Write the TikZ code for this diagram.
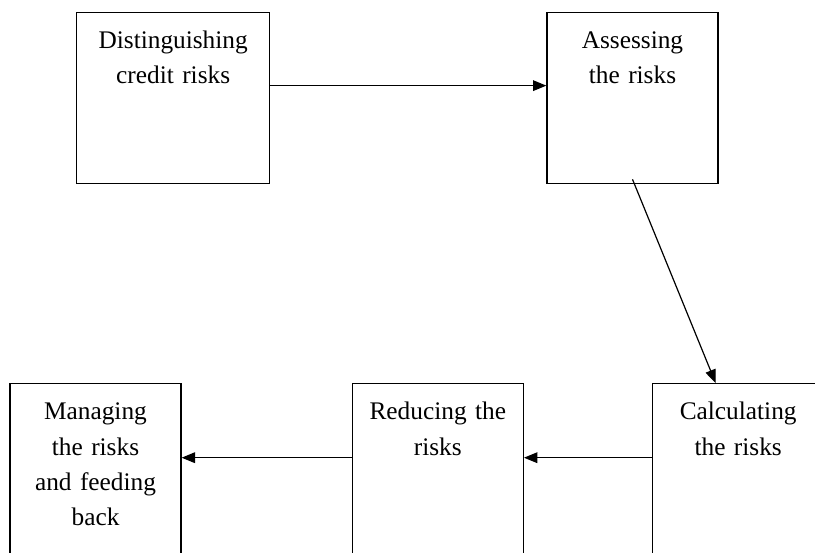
\documentclass[tikz,border=0pt]{standalone}
\usepackage{fontspec}
\setmainfont{Liberation Serif}
\usetikzlibrary{arrows.meta}
\usetikzlibrary{positioning}

\begin{document}
\begin{tikzpicture}
    [x=0.75pt, y=-0.75pt,
      % Stil für die Kästen
      box/.style={rectangle, draw, line width=1pt, inner sep=0pt, align=center,
        text width=128.25pt, minimum width=128.25pt, minimum height=128.25pt,
        text height=27pt, text depth=101.25pt, font=\fontsize{19}{26.5}\selectfont},
      widebox/.style={box, text width=144.75pt, minimum width=144.75pt},
      % Stil für Pfeile
      pfeil/.style={-{Triangle[length=10pt, width=8pt]}, line width=0.9pt}]
    \useasboundingbox (0,0) rectangle (815,553);
    \clip (0,0) rectangle (815,553);
    % Knoten
    \node[widebox, anchor=north west] (dist) at (76,12) {Distinguishing\\credit risks};
    \node[box, right=207pt of dist] (assess) {Assessing\\the risks};
    \node[box, anchor=north west] (calc) at (652,383) {Calculating\\the risks};
    \node[box, left=96pt of calc] (reduce) {Reducing the\\risks};
    \node[box, left=127.5pt of reduce] (manage) {Managing\\the risks\\and feeding\\back};
    % Kanten
    \path[pfeil]
      ([yshift=9.4pt]dist.east) edge ([yshift=9.4pt]assess.west)
      ([yshift=3.75pt]assess.south) edge ([xshift=-16.9pt]calc.north)
      ([yshift=8.6pt]calc.west) edge ([yshift=8.6pt]reduce.east)
      ([yshift=8.6pt]reduce.west) edge ([yshift=8.6pt]manage.east);
\end{tikzpicture}
\end{document}
